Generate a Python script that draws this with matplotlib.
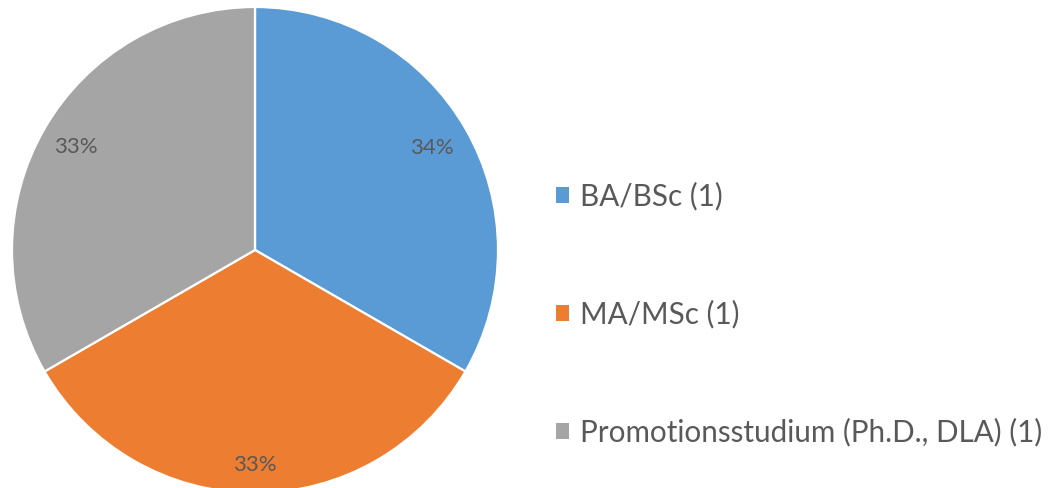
import matplotlib
matplotlib.use("Agg")
import matplotlib.pyplot as plt
import numpy as np

categories = ["BA/BSc (1)", "MA/MSc (1)", "Promotionsstudium (Ph.D., DLA) (1)"]
values = [1, 1, 1]
pct_labels = ["34%", "33%", "33%"]
colors = ["#5B9BD5", "#ED7D31", "#A5A5A5"]

plt.rcParams['font.family'] = ['Lato', 'DejaVu Sans']
text_color = "#595959"

fig = plt.figure(figsize=(10.56, 4.88), dpi=100)
W, H = 1056, 488
cx, cy, r = 255, 250, 243
ax = fig.add_axes([(cx - r) / W, (H - cy - r) / H, 2 * r / W, 2 * r / H])

wedges, _ = ax.pie(values, colors=colors, startangle=90, counterclock=False,
                   wedgeprops=dict(edgecolor="white", linewidth=1.6))
ax.set_xlim(-1, 1)
ax.set_ylim(-1, 1)
ax.set_aspect("equal")

label_dist = [0.84, 0.885, 0.85]
for w, lab, d in zip(wedges, pct_labels, label_dist):
    th = np.deg2rad((w.theta1 + w.theta2) / 2)
    ax.text(d * np.cos(th), d * np.sin(th), lab, ha="center", va="center",
            fontsize=16, color=text_color)

leg = fig.legend(wedges, categories, loc="upper left",
                 bbox_to_anchor=(556 / W, 1 - 182 / H), frameon=False,
                 borderpad=0, borderaxespad=0,
                 fontsize=21.3, handlelength=0.45, handleheight=0.45,
                 handletextpad=0.35, labelspacing=3.02, labelcolor=text_color)
for h in leg.legend_handles:
    h.set_edgecolor("none")

fig.savefig("out.png", dpi=100)
